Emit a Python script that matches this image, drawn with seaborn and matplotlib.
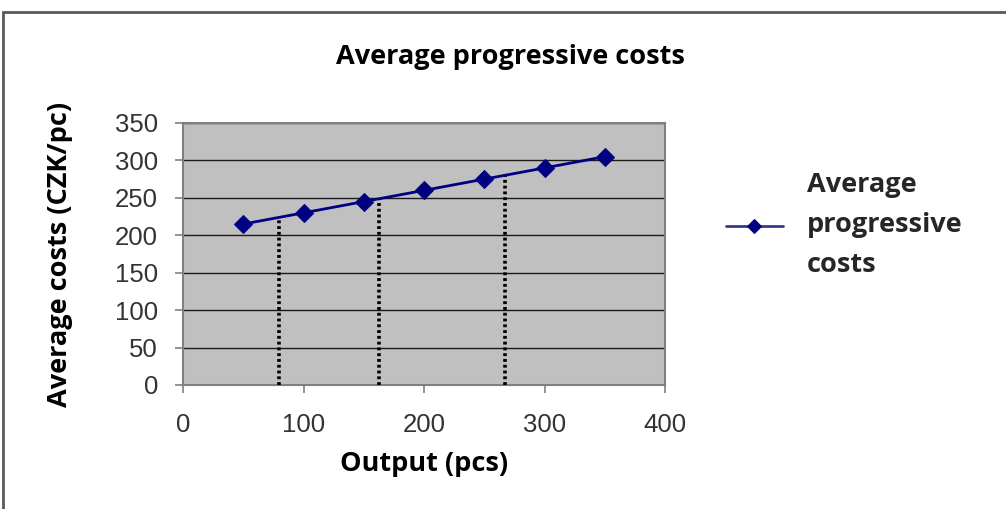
import numpy as np
import pandas as pd
import matplotlib
matplotlib.use("Agg")
import matplotlib.pyplot as plt
import seaborn as sns
from matplotlib.patches import Rectangle

# Output quantities and the average progressive cost at each of them
output_pcs = [50, 100, 150, 200, 250, 300, 350]
avg_costs = [215, 230, 245, 260, 275, 290, 305]

# Output levels where drop lines are drawn down to the axis
drop_output = [80, 163, 267]

x_ticks = [0, 100, 200, 300, 400]
y_ticks = [0, 50, 100, 150, 200, 250, 300, 350]

series_name = "Average progressive costs"
legend_label = "Average\nprogressive\ncosts"

sns.set_style("white")
plt.rcParams["font.family"] = ["Liberation Sans", "DejaVu Sans"]

W, H = 1006, 509
fig = plt.figure(figsize=(W / 100, H / 100), dpi=100)
fig.patch.set_facecolor("white")

# Chart-area frame
fig.add_artist(Rectangle((3 / W, -0.05), 1.2, 1 - 12 / H + 0.05,
                         transform=fig.transFigure, fill=False,
                         edgecolor="#5a5a5a", linewidth=2.0))

ax = fig.add_axes([183 / W, 1 - 385 / H, (665 - 183) / W, (385 - 123) / H])
ax.set_facecolor("#c0c0c0")

df = pd.DataFrame({"output": output_pcs, "cost": avg_costs})
sns.lineplot(data=df, x="output", y="cost", ax=ax, color="#000080",
             linewidth=2.0, marker="D", markersize=9,
             markeredgecolor="#000080", markerfacecolor="#000080",
             label=legend_label, zorder=4)

# Dotted drop lines from the cost curve to the x axis
drop_heights = np.interp(drop_output, output_pcs, avg_costs)
for xv, hv in zip(drop_output, drop_heights):
    ax.plot([xv, xv], [0, hv], color="black", linewidth=2.6,
            linestyle=(0, (0.8, 0.8)), zorder=3)

ax.set_xlim(0, 400)
ax.set_ylim(0, 350)
ax.set_xticks(x_ticks)
ax.set_yticks(y_ticks)
ax.grid(axis="y", color="#1a1a1a", linewidth=1.0)
ax.grid(axis="x", visible=False)
ax.set_axisbelow(True)

for s in ax.spines.values():
    s.set_color("#808080")
    s.set_linewidth(1.5)
    s.set_visible(True)

ax.tick_params(axis="both", direction="out", length=6, width=1.2,
               color="#808080", labelcolor="#333333", labelsize=18.5)
ax.tick_params(axis="y", pad=12)
ax.tick_params(axis="x", pad=14)
ax.tick_params(left=True, bottom=True)

bold_font = ["Open Sans", "DejaVu Sans"]
bold_size = 19.5
ax.set_xlabel("Output (pcs)", fontsize=bold_size, fontweight="bold",
              family=bold_font, color="black", labelpad=10)
ax.set_ylabel("Average costs (CZK/pc)", fontsize=bold_size, fontweight="bold",
              family=bold_font, color="black", labelpad=30)
fig.text(510 / W, 1 - 57 / H, series_name, ha="center", va="center",
         fontsize=bold_size, fontweight="bold", family=bold_font, color="black")

leg = ax.legend(loc="center left", bbox_to_anchor=(726 / W, 1 - 225 / H),
                bbox_transform=fig.transFigure, frameon=False,
                handlelength=2.1, handletextpad=0.9, borderpad=0,
                borderaxespad=0,
                prop={"family": bold_font, "weight": "bold", "size": bold_size})
for t in leg.get_texts():
    t.set_linespacing(1.68)
for h in leg.legend_handles:
    h.set_markersize(7)
    h.set_color("#3a3a8a")
    h.set_markerfacecolor("#000080")
    h.set_markeredgecolor("#000080")

fig.savefig("out.png", dpi=100, facecolor="white")
